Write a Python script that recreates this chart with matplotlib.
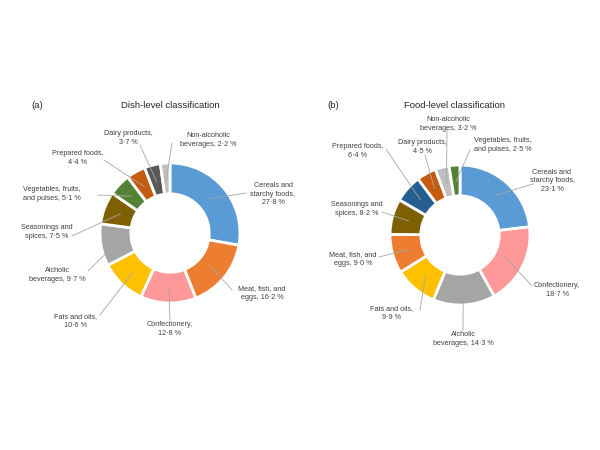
import numpy as np
import matplotlib.pyplot as plt
plt.switch_backend('agg')
plt.rcParams['font.family'] = ['Liberation Sans', 'DejaVu Sans']

# (a) dish-level classification, clockwise from top
dish_labels = ['Cereals and\nstarchy foods,\n27·8 %', 'Meat, fish, and\neggs, 16·2 %',
               'Confectionery,\n12·8 %', 'Fats and oils,\n10·6 %', 'Alcholic\nbeverages, 9·7 %',
               'Seasonings and\nspices, 7·5 %', 'Vegetables, fruits,\nand pulses, 5·1 %',
               'Prepared foods,\n4·4 %', 'Dairy products,\n3·7 %', 'Non-alcoholic\nbeverages, 2·2 %']
dish_values = [27.8, 16.2, 12.8, 10.6, 9.7, 7.5, 5.1, 4.4, 3.7, 2.2]
dish_colors = ['#5B9BD5', '#ED7D31', '#FF9999', '#FFC000', '#A5A5A5',
               '#7F6000', '#548235', '#C55A11', '#595959', '#BFBFBF']

# (b) food-level classification, clockwise from top
food_labels = ['Cereals and\nstarchy foods,\n23·1 %', 'Confectionery,\n18·7 %',
               'Alcholic\nbeverages, 14·3 %', 'Fats and oils,\n9·9 %', 'Meat, fish, and\neggs, 9·0 %',
               'Seasonings and\nspices, 8·2 %', 'Prepared foods,\n6·4 %', 'Dairy products,\n4·5 %',
               'Non-alcoholic\nbeverages, 3·2 %', 'Vegetables, fruits,\nand pulses, 2·5 %']
food_values = [23.1, 18.7, 14.3, 9.9, 9.0, 8.2, 6.4, 4.5, 3.2, 2.5]
food_colors = ['#5B9BD5', '#FF9999', '#A5A5A5', '#FFC000', '#ED7D31',
               '#7F6000', '#255E91', '#C55A11', '#BFBFBF', '#548235']

H = 450

# label centres and leader-line ends (pixel coords, y down)
dish_pos = [(273, 194), (262, 293), (170, 329), (76, 321), (57, 275),
            (47, 232), (52, 194), (78, 158), (128, 138), (208, 140)]
dish_ends = [(246, 193), (232, 290), (170, 320), (100, 315), (88, 271),
             (72, 236), (98, 195), (104, 160), (140, 145), (172, 143)]
food_pos = [(552, 181), (557, 290), (463, 339), (392, 313), (353, 259),
            (357, 209), (358, 151), (422, 147), (448, 124), (503, 145)]
food_ends = [(533, 184), (532, 286), (463, 330), (420, 310), (379, 257),
             (382, 212), (386, 149), (425, 155), (447, 130), (470, 150)]


def donut(ax, values, colors, labels, pos, ends, cx, cy, r):
    wedges, _ = ax.pie(values, colors=colors, startangle=90, counterclock=False,
                       center=(cx, H - cy), radius=r,
                       wedgeprops=dict(width=0.44 * r, edgecolor='white', linewidth=2))
    for w, lab, (tx, ty), (ex, ey) in zip(wedges, labels, pos, ends):
        ang = np.deg2rad((w.theta1 + w.theta2) / 2)
        sx = cx + 0.76 * r * np.cos(ang)
        sy = H - cy + 0.76 * r * np.sin(ang)
        ax.plot([sx, ex], [sy, H - ey], color='#A6A6A6', lw=0.6, zorder=3)
        ax.text(tx, H - ty, lab, ha='center', va='center', fontsize=5.2,
                color='#404040', linespacing=1.25)


fig = plt.figure(figsize=(6, 4.5), dpi=100)
ax = fig.add_axes([0, 0, 1, 1])
donut(ax, dish_values, dish_colors, dish_labels, dish_pos, dish_ends, 170, 233, 70)
donut(ax, food_values, food_colors, food_labels, food_pos, food_ends, 460, 235, 70)

ax.text(37, H - 105, '(a)', ha='center', va='center', fontsize=6.8, color='#262626')
ax.text(170, H - 105, 'Dish-level classification', ha='center', va='center', fontsize=6.8, color='#262626')
ax.text(333, H - 105, '(b)', ha='center', va='center', fontsize=6.8, color='#262626')
ax.text(454, H - 105, 'Food-level classification', ha='center', va='center', fontsize=6.8, color='#262626')

ax.set_xlim(0, 600)
ax.set_ylim(0, H)
ax.set_aspect('equal')
ax.axis('off')

fig.savefig('out.png', dpi=100)
